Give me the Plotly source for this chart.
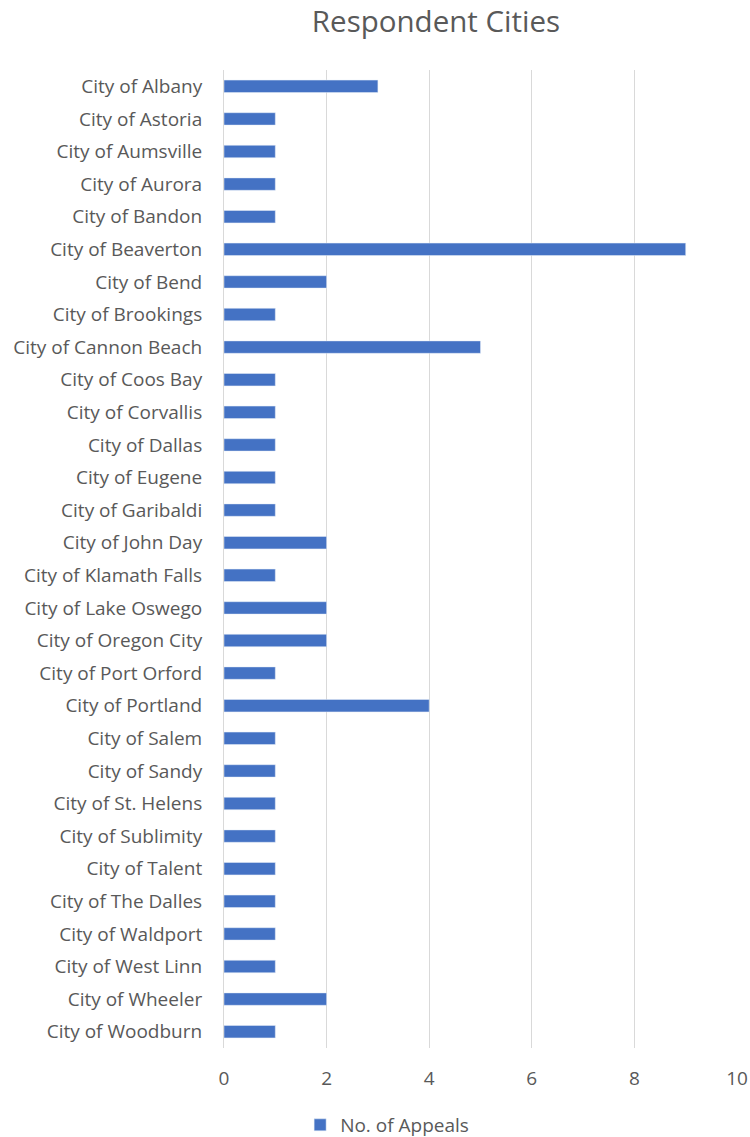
import plotly.graph_objects as go

cities = ["City of Albany", "City of Astoria", "City of Aumsville", "City of Aurora", "City of Bandon",
          "City of Beaverton", "City of Bend", "City of Brookings", "City of Cannon Beach", "City of Coos Bay",
          "City of Corvallis", "City of Dallas", "City of Eugene", "City of Garibaldi", "City of John Day",
          "City of Klamath Falls", "City of Lake Oswego", "City of Oregon City", "City of Port Orford",
          "City of Portland", "City of Salem", "City of Sandy", "City of St. Helens", "City of Sublimity",
          "City of Talent", "City of The Dalles", "City of Waldport", "City of West Linn", "City of Wheeler",
          "City of Woodburn"]
appeals = [3, 1, 1, 1, 1, 9, 2, 1, 5, 1, 1, 1, 1, 1, 2, 1, 2, 2, 1, 4, 1, 1, 1, 1, 1, 1, 1, 1, 2, 1]
x_ticks = [0, 2, 4, 6, 8, 10]

FONT = "Open Sans, sans-serif"
GREY = "#595959"
FS = 19

fig = go.Figure()
fig.add_trace(go.Bar(
    y=cities, x=appeals, orientation="h", name="No. of Appeals",
    marker=dict(color="#4472C4"), width=0.38, showlegend=True,
))
fig.update_layout(
    width=750, height=1137,
    paper_bgcolor="white", plot_bgcolor="white",
    margin=dict(l=224, r=13, t=70, b=89, autoexpand=False),
    title=dict(text="Respondent Cities", x=0.5813, xanchor="center", y=0.9807, yanchor="middle",
               font=dict(family=FONT, size=29.5, color=GREY)),
    font=dict(family=FONT, size=FS, color=GREY),
    xaxis=dict(range=[0, 10], tickvals=x_ticks, showgrid=True, gridcolor="#D9D9D9", gridwidth=1,
               zeroline=False, showline=False, ticks="", ticklabelstandoff=17, automargin=False,
               tickfont=dict(family=FONT, size=FS, color=GREY)),
    yaxis=dict(categoryorder="array", categoryarray=cities, autorange="reversed",
               showgrid=False, zeroline=False, showline=True, linecolor="#D9D9D9", linewidth=1,
               ticks="", ticklabelstandoff=17, automargin=False,
               tickfont=dict(family=FONT, size=FS, color=GREY)),
    legend=dict(orientation="h", x=0.318, xanchor="center", y=-0.0787, yanchor="middle",
                font=dict(family=FONT, size=FS, color=GREY), itemwidth=30),
    showlegend=True,
)
fig.write_html(
    "out.html",
    config={"displayModeBar": False},
    post_script="document.documentElement.style.margin='0';document.body.style.margin='0';"
                "document.documentElement.style.overflow='hidden';document.body.style.overflow='hidden';",
)
